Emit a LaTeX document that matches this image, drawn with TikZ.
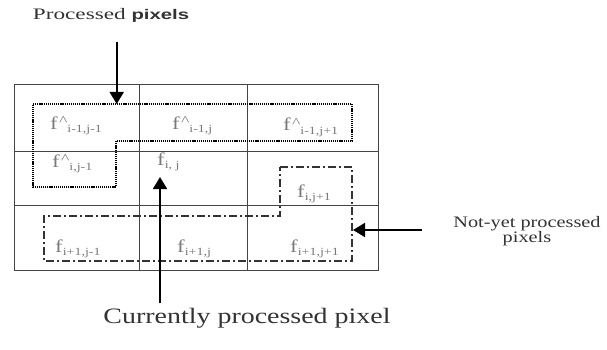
\documentclass[tikz,border=0pt]{standalone}
\usepackage{fontspec}
\setmainfont{Liberation Serif}
\newfontfamily\labsans{Liberation Sans}
\usepackage{graphicx}
\usetikzlibrary{arrows.meta}
\definecolor{gridc}{HTML}{444444}
\definecolor{labc}{HTML}{7A7A7A}
\definecolor{txtc}{HTML}{333333}
\newcommand\hs[1]{\scalebox{1.27}[1]{#1}}
\newcommand\subx[1]{\raisebox{-3pt}{\fontsize{11}{11}\selectfont #1}}
\newcommand\cellhat[1]{\hs{f\kern1pt\raisebox{3.5pt}{\fontsize{14}{14}\selectfont\textasciicircum}\subx{#1}}}
\newcommand\cellf[1]{\hs{f\subx{#1}}}
\tikzset{
  gridline/.style={draw=gridc, line width=0.9pt},
  procpath/.style={draw=black, line width=1.6pt, dash pattern=on 1.2pt off 0.9pt},
  nypath/.style={draw=black!80, line width=1.6pt, dash pattern=on 8pt off 3pt on 2pt off 3pt},
  pointer/.style={draw=black, line width=1.7pt, -{Triangle[length=12pt,width=14pt]}},
  celllab/.style={anchor=base west, inner sep=0pt, text=labc, font=\fontsize{18}{18}\selectfont},
  caption/.style={inner sep=0pt, text=txtc, align=center}
}
\begin{document}
\begin{tikzpicture}[x=1pt,y=-1pt]
\useasboundingbox (0,0) rectangle (607,350);
% grid
\draw[gridline] (14,84) rectangle (378,270);
\draw[gridline] (139,84) -- (139,270);
\draw[gridline] (247,84) -- (247,270);
\draw[gridline] (14,151) -- (378,151);
\draw[gridline] (14,205) -- (378,205);
% regions
\draw[procpath] (33,104) -- (352,104) -- (352,141) -- (116,141) -- (116,187) -- (33,187) -- cycle;
\draw[nypath] (280,167) -- (352,167) -- (352,261) -- (44,261) -- (44,216) -- (280,216) -- cycle;
% cell labels
\node[celllab] (c11) at (50,129) {\cellhat{i-1,j-1}};
\node[celllab] (c12) at (172,129) {\cellhat{i-1,j}};
\node[celllab] (c13) at (283,131) {\cellhat{i-1,j+1}};
\node[celllab] (c21) at (52,167) {\cellhat{i,j-1}};
\node[celllab] (c22) at (157,165) {\cellf{i, j}};
\node[celllab] (c23) at (297,197) {\cellf{i,j+1}};
\node[celllab] (c31) at (55,252) {\cellf{i+1,j-1}};
\node[celllab] (c32) at (177,252) {\cellf{i+1,j}};
\node[celllab] (c33) at (290,252) {\cellf{i+1,j+1}};
% captions
\node[caption, font=\fontsize{16}{16}\selectfont] (ptext) at (111,15) {\scalebox{1.45}[1]{Processed {\labsans\bfseries\fontsize{14}{14}\selectfont pixels}}};
\node[caption, font=\fontsize{16}{14}\selectfont] (ntext) at (527,231) {\hs{Not-yet processed}\\\hs{pixels}};
\node[caption, font=\fontsize{22}{22}\selectfont] (ctext) at (247,318) {\hs{Currently processed pixel}};
% pointers
\coordinate (pstart) at (116.7,42);
\coordinate (pend) at (116.7,104);
\coordinate (cstart) at (160,303);
\coordinate (cend) at (160,177);
\coordinate (nstart) at (422,230);
\coordinate (nend) at (353,230);
\draw[pointer] (pstart) -- (pend);
\draw[pointer] (cstart) -- (cend);
\draw[pointer] (nstart) -- (nend);
\end{tikzpicture}
\end{document}
